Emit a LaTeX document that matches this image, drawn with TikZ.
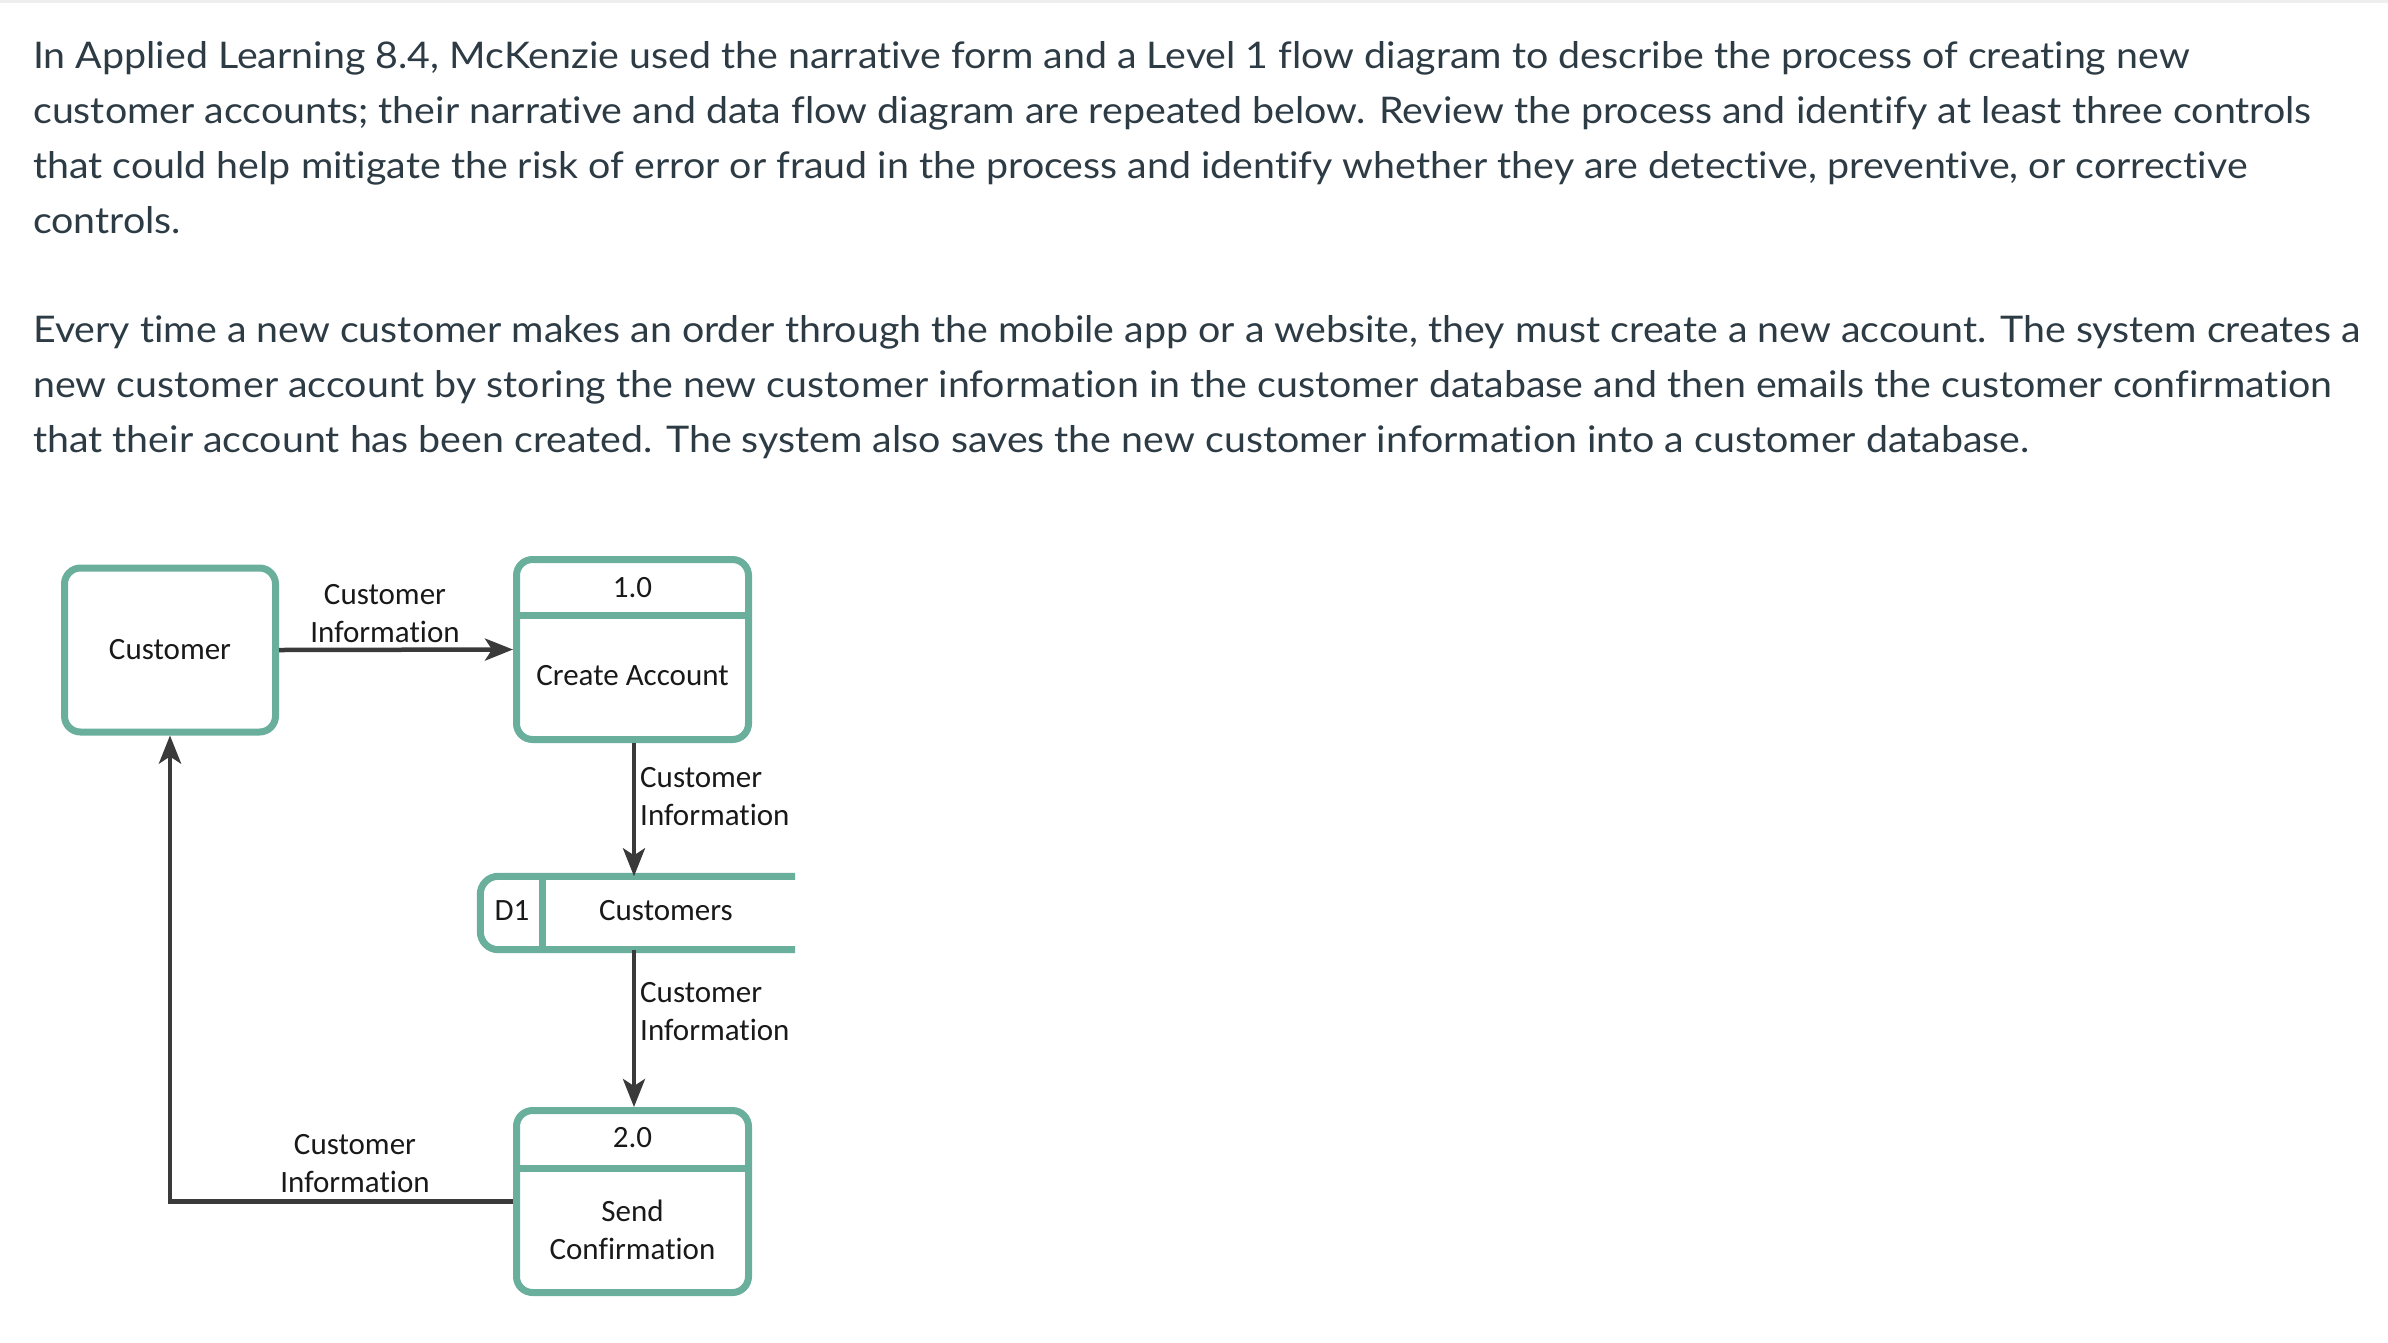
\documentclass[tikz,border=0pt]{standalone}
\usepackage{fontspec}
\setmainfont{Lato}[FakeStretch=1.072, Ligatures=NoCommon]
\newfontfamily\dfdfont{Carlito}[Ligatures=NoCommon]
\usepackage{xcolor}
\usetikzlibrary{arrows.meta}
\usetikzlibrary{positioning}
\definecolor{dfdteal}{HTML}{6AAF9C}
\definecolor{flowgray}{HTML}{3A3A3A}
\definecolor{inktext}{HTML}{2D3B45}
\definecolor{topgray}{HTML}{EEEEEE}
\tikzset{
  entitybox/.style={draw=dfdteal, line width=7pt, rounded corners=16pt, minimum width=211pt, minimum height=164pt, inner sep=0pt, font=\dfdfont\fontsize{31}{38}\selectfont, text=black!90},
  procbox/.style={draw=dfdteal, line width=7pt, rounded corners=16pt, minimum width=232pt, inner sep=0pt},
  storeline/.style={draw=dfdteal, line width=7pt},
  dfdtext/.style={inner sep=0pt, align=center, font=\dfdfont\fontsize{31}{38}\selectfont, text=black!90},
  flow/.style={draw=flowgray, line width=4.5pt, -{Stealth[length=28pt, width=22pt, inset=7pt]}},
  paraline/.style={anchor=base west, inner sep=0pt, font=\fontsize{36.7}{55}\selectfont, text=inktext}
}
\begin{document}
\begin{tikzpicture}[x=1pt, y=-1pt]
\useasboundingbox (0,0) rectangle (2388,1342);
\fill[topgray] (0,0) rectangle (2388,3);
% question text
\node[paraline] (q1) at (33,68) {In Applied Learning 8.4, McKenzie used the narrative form and a Level 1 flow diagram to describe the process of creating new};
\node[paraline] (q2) at (33,123) {customer accounts; their narrative and data flow diagram are repeated below. Review the process and identify at least three controls};
\node[paraline] (q3) at (33,178) {that could help mitigate the risk of error or fraud in the process and identify whether they are detective, preventive, or corrective};
\node[paraline] (q4) at (33,233) {controls.};
\node[paraline] (n1) at (33,342) {Every time a new customer makes an order through the mobile app or a website, they must create a new account. The system creates a};
\node[paraline] (n2) at (33,397) {new customer account by storing the new customer information in the customer database and then emails the customer confirmation};
\node[paraline] (n3) at (33,452) {that their account has been created. The system also saves the new customer information into a customer database.};
% data flow diagram
\node[entitybox] (cust) at (170,650) {Customer};
\node[procbox, minimum height=180pt] (proc1) at (632.5,649.5) {};
\draw[storeline] (proc1.west |- 0,615) -- (proc1.east |- 0,615);
\node[dfdtext] (p1num) at (632.5,588) {1.0};
\node[dfdtext] (p1name) at (632.5,676) {Create Account};
\node[minimum width=314.5pt, minimum height=73pt, inner sep=0pt] (store) at (637.75,913) {};
\draw[storeline, rounded corners=18pt] (store.north east) -- (store.north west) -- (store.south west) -- (store.south east);
\draw[storeline] (542,876.5) -- (542,949.5);
\node[dfdtext] (d1) at (512,911) {D1};
\node[dfdtext] (dname) at (666,911) {Customers};
\node[procbox, minimum height=182pt] (proc2) at (632.5,1201.5) {};
\draw[storeline] (proc2.west |- 0,1168) -- (proc2.east |- 0,1168);
\node[dfdtext] (p2num) at (632.5,1138) {2.0};
\node[dfdtext] (p2name) at (632.5,1230) {Send\\Confirmation};
% flows
\draw[flow] (cust.east) -- (proc1.west);
\draw[flow] (proc1.south -| 634,0) -- (store.north -| 634,0);
\draw[flow] (store.south -| 634,0) -- (proc2.north -| 634,0);
\draw[flow] (proc2.west) -| (cust.south);
\node[dfdtext] (f1) at (385,614) {Customer\\Information};
\node[dfdtext, anchor=west, align=left] (f2) at (640,797) {Customer\\Information};
\node[dfdtext, anchor=west, align=left] (f3) at (640,1012) {Customer\\Information};
\node[dfdtext] (f4) at (355,1164) {Customer\\Information};
\end{tikzpicture}
\end{document}
